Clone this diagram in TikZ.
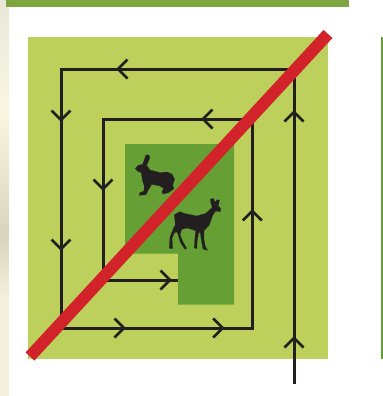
\documentclass[tikz,border=0pt]{standalone}
\definecolor{barg}{HTML}{7FA540}
\definecolor{lightg}{HTML}{BDD05C}
\definecolor{darkg}{HTML}{669F33}
\definecolor{ink}{HTML}{231F20}
\definecolor{redb}{HTML}{D2232A}
\definecolor{c1}{HTML}{E9E7D8}
\definecolor{c2}{HTML}{F9F7E2}
\definecolor{c3}{HTML}{D8D5BF}
\definecolor{c4}{HTML}{F3F1DD}
\tikzset{
  x=1bp,y=-1bp,
  route/.style={draw=ink,line width=3bp,line join=miter},
  chev/.pic={\draw[ink,line width=2.7bp,line cap=butt,line join=miter] (-9.5,-9.5)--(0,0)--(9.5,-9.5);},
  animal/.style={fill=ink,draw=ink,line width=0.2bp},
}
\begin{document}
\begin{tikzpicture}
\useasboundingbox (0,0) rectangle (383,396);
\fill[white] (0,0) rectangle (383,396);
% background strips
\shade[top color=c1,bottom color=c2] (0,0) rectangle (9,110);
\shade[top color=c2,bottom color=c3] (0,110) rectangle (9,235);
\shade[top color=c3,bottom color=c4] (0,235) rectangle (9,300);
\fill[c4] (0,300) rectangle (9,396);
\fill[barg] (6,0) rectangle (349,7);
\fill[darkg] (381,37) rectangle (383,359);
% fields
\fill[lightg] (28,37) rectangle (328,359);
\fill[darkg] (125,144)--(234,144)--(234,304.5)--(178,304.5)--(178,253.5)--(125,253.5)--cycle;
% route
\coordinate (s0) at (294,384);
\coordinate (s1) at (294,69);
\coordinate (s2) at (61,69);
\coordinate (s3) at (61,328);
\coordinate (s4) at (252.3,328);
\coordinate (s5) at (252.3,119);
\coordinate (s6) at (103,119);
\coordinate (s7) at (103,280);
\coordinate (s8) at (178,280);
\draw[route] (s0)--(s1)--(s2)--(s3)--(s4)--(s5)--(s6)--(s7)--(s8);
% chevrons: apex position, rotation from the "pointing down" pose
\path (294,338) pic[rotate=180] {chev};
\path (294,112) pic[rotate=180] {chev};
\path (118,69) pic[rotate=-90] {chev};
\path (61,120) pic {chev};
\path (61,249) pic {chev};
\path (124,328) pic[rotate=90] {chev};
\path (222.7,328) pic[rotate=90] {chev};
\path (252.3,211) pic[rotate=180] {chev};
\path (203,119) pic[rotate=-90] {chev};
\path (103,189) pic {chev};
\path (170,280) pic[rotate=90] {chev};
% hare (traced in zoom coordinates: offset 100,130, factor 3)
\begin{scope}[shift={(100,130)},x=0.3333bp,y=-0.3333bp]
\fill[animal] (138,75)--(148,75)--(149,84)--(145,95)--(140,106)--(150,120)--(165,124)--(180,128)--(200,126)--(216,132)--(224,148)--(218,165)--(222,176)--(205,188)--(188,192)--(186,184)--(192,176)--(180,168)--(155,163)--(145,180)--(138,194)--(118,196)--(120,188)--(132,183)--(133,168)--(127,150)--(124,128)--(112,123)--(106,115)--(115,106)--(128,103)--(132,92)--cycle;
% roe deer
\fill[animal] (331,208)--(340,205)--(345,217)--(352,209)--(358,211)--(355,228)--(362,235)--(361,245)--(347,243)--(338,256)--(328,285)--(312,302)--(312,328)--(316,350)--(323,361)--(309,357)--(303,325)--(301,307)--(296,308)--(291,338)--(291,356)--(283,353)--(285,322)--(287,302)--(262,294)--(245,298)--(240,314)--(248,334)--(260,355)--(255,358)--(241,336)--(232,306)--(223,308)--(216,326)--(218,356)--(208,355)--(210,322)--(219,298)--(226,284)--(223,254)--(240,245)--(252,250)--(290,258)--(318,250)--(337,232)--(333,220)--cycle;
\end{scope}
% prohibition bar
\coordinate (b0) at (30,356.5);
\coordinate (b1) at (328,34);
\draw[redb,line width=12bp] (b0)--(b1);
\end{tikzpicture}
\end{document}
